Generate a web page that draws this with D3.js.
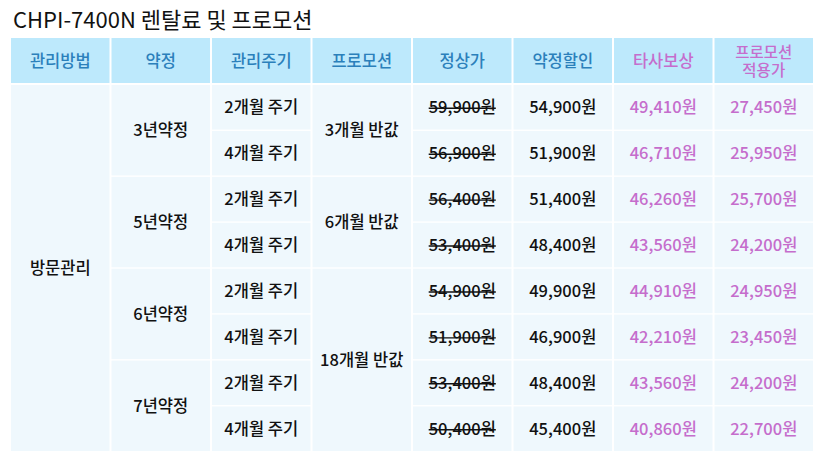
<!DOCTYPE html>
<html><head><meta charset="utf-8">
<script src="https://cdn.jsdelivr.net/npm/d3@7"></script>
<style>body{margin:0;background:#fff;font-family:"Noto Sans CJK KR","Noto Sans",sans-serif;}</style>
</head><body><svg id="c" width="828" height="472"></svg>
<script>
const title = "CHPI-7400N 렌탈료 및 프로모션";
const headers = ["관리방법","약정","관리주기","프로모션","정상가","약정할인","타사보상","프로모션\n적용가"];
const methods = [{label:"방문관리", start:0, span:8}];
const contracts = [{label:"3년약정",start:0,span:2},{label:"5년약정",start:2,span:2},{label:"6년약정",start:4,span:2},{label:"7년약정",start:6,span:2}];
const cycles = ["2개월 주기","4개월 주기","2개월 주기","4개월 주기","2개월 주기","4개월 주기","2개월 주기","4개월 주기"];
const promos = [{label:"3개월 반값",start:0,span:2},{label:"6개월 반값",start:2,span:2},{label:"18개월 반값",start:4,span:4}];
const regular = [59900,56900,56400,53400,54900,51900,53400,50400];
const contractDisc = [54900,51900,51400,48400,49900,46900,48400,45400];
const compensation = [49410,46710,46260,43560,44910,42210,43560,40860];
const promoPrice = [27450,25950,25700,24200,24950,23450,24200,22700];

const svg = d3.select("#c");
const x = d3.scaleBand().domain(d3.range(8)).range([11,813]).paddingInner(0.02);
const y = d3.scaleBand().domain(d3.range(8)).range([85,451]).paddingInner(0.03);
const hdrTop = 38, hdrBot = 83;
const fmt = v => d3.format(",")(v) + "원";
const pink = "#c56dcc", blue = "#2b80bb", dark = "#111";
const fs = 16.5;

svg.append("text").attr("x",13).attr("y",28).attr("font-size",22).attr("fill","#111").text(title);

headers.forEach((h,i)=>{
  svg.append("rect").attr("x",x(i)).attr("y",hdrTop).attr("width",x.bandwidth()).attr("height",hdrBot-hdrTop).attr("fill","#bde9fc");
  const lines = h.split("\n");
  const multi = lines.length>1;
  const t = svg.append("text").attr("text-anchor","middle").attr("font-size",multi?15.5:fs).attr("font-weight",500)
    .attr("fill", i>=6?pink:blue);
  lines.forEach((l,k)=>t.append("tspan").attr("x",x(i)+x.bandwidth()/2)
    .attr("y",(hdrTop+hdrBot)/2+6+(k-(lines.length-1)/2)*18).text(l));
});

function cell(col,start,span,label,color,strike){
  const y0 = y(start), y1 = y(start+span-1)+y.bandwidth();
  svg.append("rect").attr("x",x(col)).attr("y",y0).attr("width",x.bandwidth()).attr("height",y1-y0).attr("fill","#eff8fd");
  const t = svg.append("text").attr("x",x(col)+x.bandwidth()/2).attr("y",(y0+y1)/2+6)
    .attr("text-anchor","middle").attr("font-size",fs).attr("font-weight",500).attr("fill",color).text(label);
  if(strike){
    const w = t.node().getComputedTextLength();
    svg.append("line").attr("x1",x(col)+x.bandwidth()/2-w/2).attr("x2",x(col)+x.bandwidth()/2+w/2)
      .attr("y1",(y0+y1)/2+1).attr("y2",(y0+y1)/2+1).attr("stroke",dark).attr("stroke-width",1.4);
  }
}
methods.forEach(d=>cell(0,d.start,d.span,d.label,dark));
contracts.forEach(d=>cell(1,d.start,d.span,d.label,dark));
cycles.forEach((d,i)=>cell(2,i,1,d,dark));
promos.forEach(d=>cell(3,d.start,d.span,d.label,dark));
regular.forEach((d,i)=>cell(4,i,1,fmt(d),dark,true));
contractDisc.forEach((d,i)=>cell(5,i,1,fmt(d),dark));
compensation.forEach((d,i)=>cell(6,i,1,fmt(d),pink));
promoPrice.forEach((d,i)=>cell(7,i,1,fmt(d),pink));
</script></body></html>
